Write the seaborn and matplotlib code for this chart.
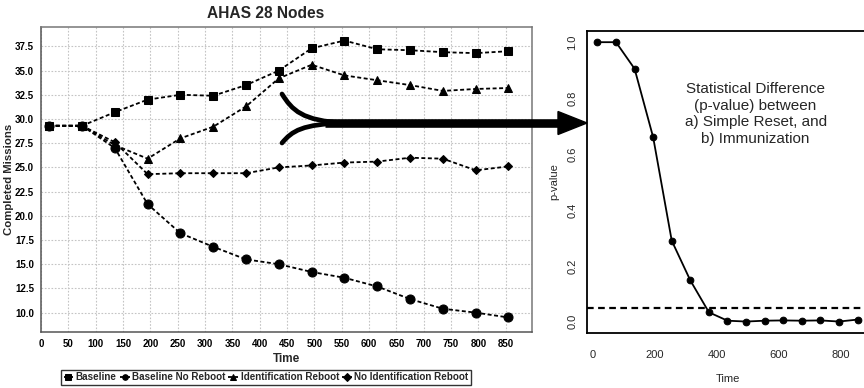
import matplotlib
matplotlib.use("Agg")
import matplotlib.pyplot as plt
import matplotlib.transforms as mtransforms
from matplotlib.path import Path
from matplotlib.patches import PathPatch, Polygon
from matplotlib.lines import Line2D
import pandas as pd
import seaborn as sns

# ---- data -------------------------------------------------------------
time = [15, 75, 135, 195, 255, 315, 375, 435, 495, 555, 615, 675, 735, 795, 855]
baseline = [29.3, 29.3, 30.7, 32.0, 32.5, 32.4, 33.5, 35.0, 37.3, 38.1, 37.2, 37.1, 36.9, 36.8, 37.0]
baseline_no_reboot = [29.3, 29.3, 27.0, 21.2, 18.2, 16.8, 15.5, 15.0, 14.2, 13.6, 12.7, 11.4, 10.4, 10.0, 9.5]
identification_reboot = [29.3, 29.3, 27.3, 25.9, 28.0, 29.2, 31.3, 34.2, 35.6, 34.5, 34.0, 33.5, 32.9, 33.1, 33.2]
no_identification_reboot = [29.3, 29.3, 27.6, 24.3, 24.4, 24.4, 24.4, 25.0, 25.2, 25.5, 25.6, 26.0, 25.9, 24.7, 25.1]

p_value = [1.0, 1.0, 0.905, 0.66, 0.29, 0.148, 0.034, 0.004, 0.001, 0.004, 0.005, 0.004, 0.005, 0.001, 0.008]
significance = 0.05

series_names = ["Baseline", "Baseline No Reboot", "Identification Reboot", "No Identification Reboot"]
x_ticks_left = list(range(0, 851, 50))
y_ticks_left = [10.0, 12.5, 15.0, 17.5, 20.0, 22.5, 25.0, 27.5, 30.0, 32.5, 35.0, 37.5]
x_ticks_right = [0, 200, 400, 600, 800]
y_ticks_right = [0.0, 0.2, 0.4, 0.6, 0.8, 1.0]
note_text = "Statistical Difference\n(p-value) between\na) Simple Reset, and\nb) Immunization"

# ---- styling ----------------------------------------------------------
sns.set_style("white")
helv = ["Liberation Sans", "DejaVu Sans"]
plt.rcParams["font.family"] = helv

W, H = 864, 388
fig = plt.figure(figsize=(W / 100, H / 100), dpi=100)

def box(l, t, r, b):
    return [l / W, 1 - b / H, (r - l) / W, (b - t) / H]

# ---- left panel: completed missions ------------------------------------
ax = fig.add_axes(box(41, 27, 532, 332))
df = pd.DataFrame({"Time": time,
                   "Baseline": baseline,
                   "Baseline No Reboot": baseline_no_reboot,
                   "Identification Reboot": identification_reboot,
                   "No Identification Reboot": no_identification_reboot})

styles = {
    "No Identification Reboot": dict(marker="D", markersize=4.2),
    "Baseline No Reboot": dict(marker="o", markersize=6.5),
    "Identification Reboot": dict(marker="^", markersize=6.2),
    "Baseline": dict(marker="s", markersize=6.0),
}
for z, name in enumerate(styles):
    sns.lineplot(data=df, x="Time", y=name, ax=ax, color="black", lw=1.3,
                 dashes=(2.2, 1.4), label=name, zorder=3 + z,
                 markeredgecolor="black", markerfacecolor="black",
                 **styles[name])

ax.set_xlim(0, 898)
ax.set_ylim(8.0, 39.5)
ax.set_xticks(x_ticks_left)
ax.set_yticks(y_ticks_left)
ax.set_yticklabels([f"{v:.1f}" for v in y_ticks_left])
ax.grid(True, color="#c4c4c4", linestyle=(0, (1.5, 1.5)), lw=0.8)
ax.tick_params(axis="both", labelsize=7, length=2, color="#777777",
               pad=3, labelcolor="black")
for lab in ax.get_xticklabels() + ax.get_yticklabels():
    lab.set_fontweight("bold")
for side, sp in ax.spines.items():
    sp.set_color("#555555" if side in ("left", "bottom") else "#777777")
    sp.set_linewidth(1.1)
ax.set_xlabel("Time", fontsize=8.5, fontweight="bold", labelpad=3)
ax.set_ylabel("Completed Missions", fontsize=8.2, fontweight="bold")
ax.yaxis.set_label_coords(-0.066, 0.5)
ax.yaxis.label.set_va("center")
fig.text(266 / W, 1 - 14 / H, "AHAS 28 Nodes", fontsize=11.2,
         fontweight="bold", ha="center", va="center")

handles, labels = ax.get_legend_handles_labels()
order = [labels.index(n) for n in series_names]
ax.get_legend().remove()
leg = fig.legend([handles[i] for i in order], [labels[i] for i in order],
                 loc="center", bbox_to_anchor=((63 + 469) / 2 / W, 1 - 377.5 / H),
                 ncol=4, frameon=True, fancybox=False, edgecolor="black",
                 handlelength=1.0, handletextpad=0.25, columnspacing=0.3,
                 borderpad=0.3, prop={"size": 7.1, "weight": "bold"})
leg.get_frame().set_linewidth(1.0)
for h in leg.legend_handles:
    h.set_markersize(4.0)

# ---- right panel: p-value --------------------------------------------
ax2 = fig.add_axes(box(587, 31, 868, 333))
sns.lineplot(x=time, y=p_value, ax=ax2, color="black", lw=1.3, marker="o",
             markersize=4.8, markeredgecolor="black", markerfacecolor="black")
ax2.axhline(significance, color="black", lw=1.6, dashes=(3.0, 2.0))
ax2.set_xlim(-18.6, 888.6)
ax2.set_ylim(-0.04, 1.04)
ax2.set_xticks(x_ticks_right)
ax2.set_yticks(y_ticks_right)
ax2.set_yticklabels([f"{v:.1f}" for v in y_ticks_right], rotation=90, va="center")
ax2.tick_params(axis="both", direction="out", length=4, width=1.0,
                labelsize=8, pad=3, color="black")
ax2.tick_params(axis="x", pad=8)
for sp in ax2.spines.values():
    sp.set_color("black")
    sp.set_linewidth(1.3)
ax2.set_xlabel("Time", fontsize=8, labelpad=10)
ax2.set_ylabel("p-value", fontsize=8, labelpad=6)
ax2.text(0.6, 0.725, note_text, transform=ax2.transAxes, ha="center",
         va="center", fontsize=11, linespacing=1.25)

# ---- connecting arrow (pixel coordinates, origin top-left) -------------
px = mtransforms.Affine2D().scale(1 / W, -1 / H).translate(0, 1) + fig.transFigure
yc = 123
top = Path([(282, 94), (292, 110), (302, 121), (345, yc)],
           [Path.MOVETO, Path.CURVE4, Path.CURVE4, Path.CURVE4])
bot = Path([(282, 143), (292, 131), (302, 124), (345, yc)],
           [Path.MOVETO, Path.CURVE4, Path.CURVE4, Path.CURVE4])
for p in (top, bot):
    fig.patches.append(PathPatch(p, transform=px, fill=False, lw=3.4,
                                 color="black", capstyle="round", zorder=20))
fig.lines.append(Line2D([325, 562], [yc, yc], transform=px, color="black",
                        lw=6.2, solid_capstyle="butt", zorder=20))
fig.patches.append(Polygon([(558, 111.5), (587, yc), (558, 134.5)],
                           closed=True, transform=px, color="black", zorder=21))

fig.savefig("out.png", dpi=100)
